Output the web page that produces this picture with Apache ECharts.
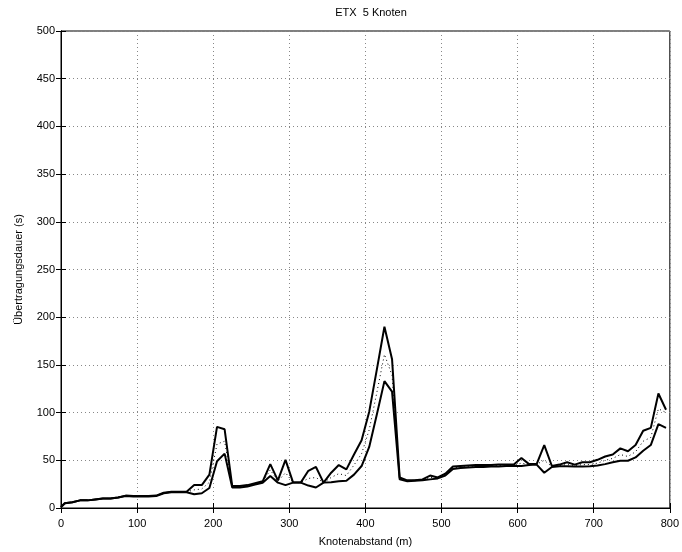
<!DOCTYPE html>
<html>
<head>
<meta charset="utf-8">
<script src="https://cdn.jsdelivr.net/npm/echarts@6/dist/echarts.min.js"></script>
<style>html,body{margin:0;padding:0;background:#fff}#c{width:682px;height:552px}</style>
</head>
<body>
<div id="c"></div>
<script>
var distances = [0,5,15,25,35,45,55,65,75,85,95,105,115,125,135,145,155,165,175,185,195,205,215,225,235,245,255,265,275,285,295,305,315,325,335,345,355,365,375,385,395,405,415,425,435,445,455,465,475,485,495,505,515,525,535,545,555,565,575,585,595,605,615,625,635,645,655,665,675,685,695,705,715,725,735,745,755,765,775,785,795];
var upperValues = [1,5,6,8,8,9,10,10,11,13,12.5,12.5,12.5,13,16,17,17,17,24,24,35,85,82.5,23,23,24,26,28,46,29,50.5,26.6,26.6,39,43,26.6,37,45,40.5,56,71,101,145,190,156,32,29,29,30,34,32,36,43.5,44,44.5,45,45,45,45.5,45.5,45.5,52.5,46,46,66,44,45.5,48,45.5,48,48,50.5,54,56,62.5,59.5,66,81,84,120,103];
var meanValues = [1,5,6,8,8,9,10,10,11,12.8,12.2,12.2,12.2,12.8,15.8,16.8,16.8,16.8,19,20,27,67,70,22,22,23,25,27,40,28,37,26.6,26.6,31,32,26.6,32,36,34,45,57,82,121,161,139,31,28.5,29,29.5,32,31.5,35,42,43,43.5,44,44,44.3,44.5,44.8,44.8,47,45.5,45.8,50,43.5,44.5,45.5,44.5,45.5,45.5,47,50,52,56,54,59,70,74,104,100];
var lowerValues = [1,5,6,8,8,9,10,10,11,12.5,12,12,12,12.5,15.5,16.5,16.5,16.5,14.5,15.5,21,49,57,21.5,21.5,22.5,24.5,26.5,33.5,26.6,24,26.6,26.6,23.5,21.5,26.6,27,28,28.5,35,44,64,98,133,122,30,28,28.5,29,30,31,34,41,42,42.5,43,43,43.5,43.5,44,44,44,45,45.5,37,43,43.8,43.8,43.5,43.5,43.8,44.5,46,48,49.5,49.5,53,60,66,88,84];
var xTicks = [0,100,200,300,400,500,600,700,800];
var yTicks = [0,50,100,150,200,250,300,350,400,450,500];

function pairs(vals){ return distances.map(function(d,i){ return [d, vals[i]]; }); }

var font = 'Liberation Sans, Arial, Helvetica, sans-serif';
var chart = echarts.init(document.getElementById('c'));
var gridLine = {show:true, lineStyle:{color:'#888', type:[1,3], width:1}};
chart.setOption({
  animation:false,
  backgroundColor:'#fff',
  title:{text:'ETX  5 Knoten', left:366, top:2, textAlign:'center',
    textStyle:{fontFamily:font, fontSize:11, fontWeight:'normal', color:'#000'}},
  grid:{left:61, right:11, top:31, bottom:38, show:true, borderColor:'#000', borderWidth:1, backgroundColor:'transparent'},
  xAxis:[{
    type:'value', min:xTicks[0], max:xTicks[xTicks.length-1], interval:100,
    name:'Knotenabstand (m)', nameLocation:'middle', nameGap:28,
    nameTextStyle:{fontFamily:font, fontSize:11, color:'#000'},
    axisLine:{show:true, lineStyle:{color:'#000'}},
    axisTick:{show:true, inside:true, length:5, lineStyle:{color:'#000'}},
    axisLabel:{fontFamily:font, fontSize:11, color:'#000', margin:10},
    splitLine:gridLine
  },{
    type:'value', position:'top', min:0, max:800, interval:100,
    axisLine:{show:true, lineStyle:{color:'#000'}},
    axisTick:{show:true, inside:true, length:5, lineStyle:{color:'#000'}},
    axisLabel:{show:false}, splitLine:{show:false}
  }],
  yAxis:[{
    type:'value', min:yTicks[0], max:yTicks[yTicks.length-1], interval:50,
    name:'Übertragungsdauer (s)', nameLocation:'middle', nameGap:37,
    nameTextStyle:{fontFamily:font, fontSize:11, color:'#000'},
    axisLine:{show:true, lineStyle:{color:'#000'}},
    axisTick:{show:true, inside:true, length:5, lineStyle:{color:'#000'}},
    axisLabel:{fontFamily:font, fontSize:11, color:'#000', margin:6},
    splitLine:gridLine
  },{
    type:'value', position:'right', min:0, max:500, interval:50,
    axisLine:{show:true, lineStyle:{color:'#000'}},
    axisTick:{show:true, inside:true, length:5, lineStyle:{color:'#000'}},
    axisLabel:{show:false}, splitLine:{show:false}
  }],
  series:[
    {type:'line', data:pairs(upperValues), symbol:'none', lineStyle:{color:'#000', width:2}, z:3},
    {type:'line', data:pairs(meanValues), symbol:'none', lineStyle:{color:'#000', width:1, type:[1,3]}, z:2},
    {type:'line', data:pairs(lowerValues), symbol:'none', lineStyle:{color:'#000', width:2}, z:3}
  ]
});
</script>
</body>
</html>
